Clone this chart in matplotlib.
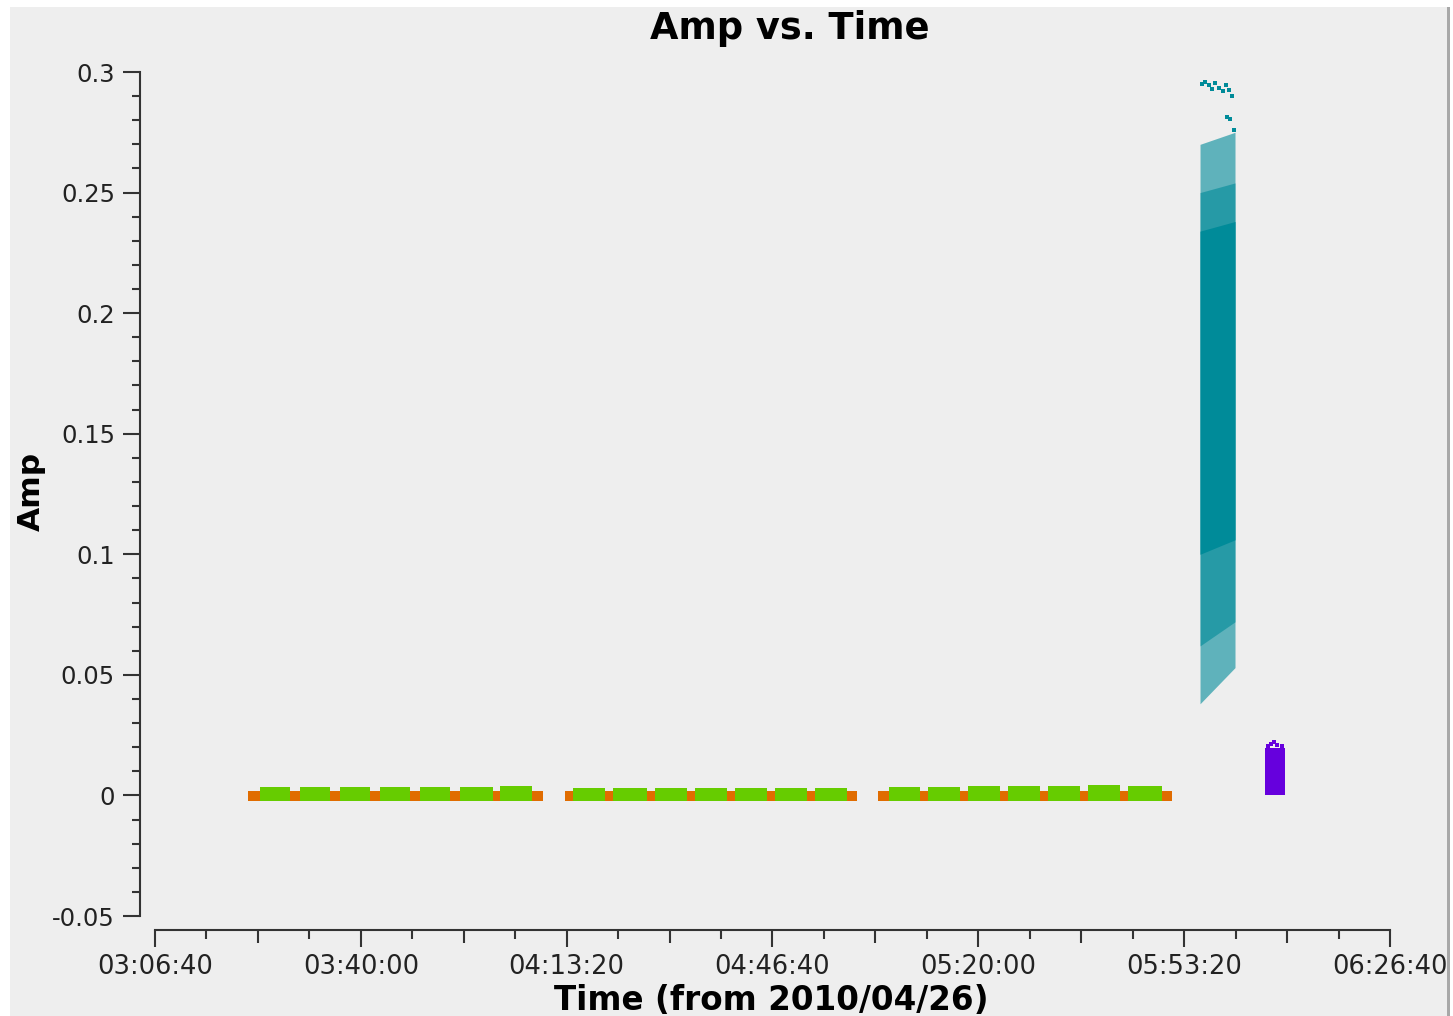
import matplotlib
matplotlib.use('Agg')
import matplotlib.pyplot as plt
import matplotlib.ticker as ticker
from matplotlib.patches import Rectangle

# scan time ranges in seconds from midnight 2010/04/26
orange_start = [12104, 12512, 12900, 13289, 13678, 14066, 14484, 14863,
                15184, 15572, 15981, 16369, 16758, 17147, 17535, 17924,
                18225, 18633, 19022, 19411, 19799, 20188, 20577, 20985]
orange_end = [12220, 12609, 12998, 13386, 13775, 14164, 14552, 14970,
              15262, 15650, 16058, 16447, 16836, 17224, 17613, 18021,
              18332, 18711, 19100, 19488, 19877, 20266, 20654, 21082]
orange_low = -0.0022
orange_high = 0.0020

green_start = [12220, 12609, 12998, 13386, 13775, 14164, 14552,
               15262, 15650, 16058, 16447, 16836, 17224, 17613,
               18332, 18711, 19100, 19488, 19877, 20266, 20654]
green_end = [12512, 12900, 13289, 13678, 14066, 14484, 14863,
             15572, 15981, 16369, 16758, 17147, 17535, 17924,
             18633, 19022, 19411, 19799, 20188, 20577, 20985]
green_low = -0.0025
green_high = [0.0035, 0.0036, 0.0035, 0.0036, 0.0037, 0.0036, 0.0038,
              0.0030, 0.0031, 0.0031, 0.0031, 0.0032, 0.0032, 0.0031,
              0.0036, 0.0037, 0.0038, 0.0038, 0.0039, 0.0042, 0.0040]

# bright calibrator scan: envelope at scan start / end plus denser inner bands
cyan_t = [21354, 21694]
cyan_outer_low = [0.038, 0.053]
cyan_outer_high = [0.270, 0.275]
cyan_mid_low = [0.062, 0.072]
cyan_mid_high = [0.250, 0.254]
cyan_core_low = [0.100, 0.106]
cyan_core_high = [0.234, 0.238]
cyan_out_t = [21370, 21400, 21440, 21470, 21500, 21540, 21580, 21610, 21640, 21660, 21620, 21650, 21680]
cyan_out_amp = [0.2950, 0.2960, 0.2945, 0.2930, 0.2955, 0.2935, 0.2920, 0.2945, 0.2925, 0.2900, 0.2815, 0.2805, 0.2760]

purple_t = [21985, 22180]
purple_low = 0.0003
purple_high = 0.0195
purple_out_t = [22010, 22040, 22070, 22100, 22150]
purple_out_amp = [0.0205, 0.0215, 0.0220, 0.0210, 0.0203]

xtick_pos = [11200, 13200, 15200, 17200, 19200, 21200, 23200]
xtick_labels = ['03:06:40', '03:40:00', '04:13:20', '04:46:40', '05:20:00', '05:53:20', '06:26:40']
ytick_pos = [-0.05, 0, 0.05, 0.1, 0.15, 0.2, 0.25, 0.3]
ytick_labels = ['-0.05', '0', '0.05', '0.1', '0.15', '0.2', '0.25', '0.3']

c_orange = '#e06c00'
c_green = '#66cc00'
c_cyan = '#008b99'
c_purple = '#6600dd'
c_axis = '#333333'

W, H = 1453, 1016
fig = plt.figure(figsize=(W / 100, H / 100), dpi=100, facecolor='white')
fig.patches.append(Rectangle((10 / W, 0), 1437 / W, 1 - 7 / H, transform=fig.transFigure,
                             facecolor='#eeeeee', edgecolor='none', zorder=-10))
fig.patches.append(Rectangle((1447 / W, 0), 3 / W, 1 - 7 / H, transform=fig.transFigure,
                             facecolor='#a8a8a8', edgecolor='none', zorder=-9))

ax = fig.add_axes([155 / W, 100 / H, 1235 / W, 844 / H])
ax.set_facecolor('none')

ax.bar(orange_start, [orange_high - orange_low] * len(orange_start),
       width=[e - s for s, e in zip(orange_start, orange_end)], bottom=orange_low,
       align='edge', color=c_orange, linewidth=0)
ax.bar(green_start, [h - green_low for h in green_high],
       width=[e - s for s, e in zip(green_start, green_end)], bottom=green_low,
       align='edge', color=c_green, linewidth=0)

ax.fill_between(cyan_t, cyan_outer_low, cyan_outer_high, color=c_cyan, alpha=0.6, linewidth=0)
ax.fill_between(cyan_t, cyan_mid_low, cyan_mid_high, color=c_cyan, alpha=0.6, linewidth=0)
ax.fill_between(cyan_t, cyan_core_low, cyan_core_high, color=c_cyan, alpha=1.0, linewidth=0)
ax.scatter(cyan_out_t, cyan_out_amp, marker='s', s=6, color=c_cyan, linewidths=0)

ax.bar(purple_t[0], purple_high - purple_low, width=purple_t[1] - purple_t[0],
       bottom=purple_low, align='edge', color=c_purple, linewidth=0)
ax.scatter(purple_out_t, purple_out_amp, marker='s', s=8, color=c_purple, linewidths=0)

ax.set_xlim(11200, 23200)
ax.set_ylim(-0.05, 0.3)

for side in ['top', 'right']:
    ax.spines[side].set_visible(False)
ax.spines['left'].set_position(('outward', 10.8))
ax.spines['bottom'].set_position(('outward', 10))
for side in ['left', 'bottom']:
    ax.spines[side].set_color(c_axis)
    ax.spines[side].set_linewidth(1.5)

ax.xaxis.set_major_locator(ticker.FixedLocator(xtick_pos))
ax.xaxis.set_major_formatter(ticker.FixedFormatter(xtick_labels))
ax.xaxis.set_minor_locator(ticker.MultipleLocator(500, offset=200))
ax.yaxis.set_major_locator(ticker.FixedLocator(ytick_pos))
ax.yaxis.set_major_formatter(ticker.FixedFormatter(ytick_labels))
ax.yaxis.set_minor_locator(ticker.MultipleLocator(0.01))

ax.tick_params(axis='both', which='both', color=c_axis, width=1.5, labelcolor='#222222')
ax.tick_params(axis='x', which='major', length=12, pad=5, labelsize=18.5)
ax.tick_params(axis='x', which='minor', length=6.5)
ax.tick_params(axis='y', which='major', length=12, pad=6, labelsize=17.5)
ax.tick_params(axis='y', which='minor', length=5.8)

fig.canvas.draw()
# longer ticks half way between labels
for loc, tick in zip(ax.xaxis.get_minorticklocs(), ax.xaxis.get_minor_ticks()):
    if (loc - 11200) % 2000 == 1000:
        tick.tick1line.set_markersize(9.4)

fig.text(790 / W, 1 - 39 / H, 'Amp vs. Time', ha='center', va='baseline',
         fontsize=26.5, fontweight='bold', color='black')
fig.text(771 / W, 6 / H, 'Time (from 2010/04/26)', ha='center', va='baseline',
         fontsize=23.5, fontweight='bold', color='black')
fig.text(31 / W, 1 - 491 / H, 'Amp', ha='center', va='center', rotation=90,
         fontsize=22.5, fontweight='bold', color='black')

fig.savefig('out.png', dpi=100, facecolor=fig.get_facecolor())
